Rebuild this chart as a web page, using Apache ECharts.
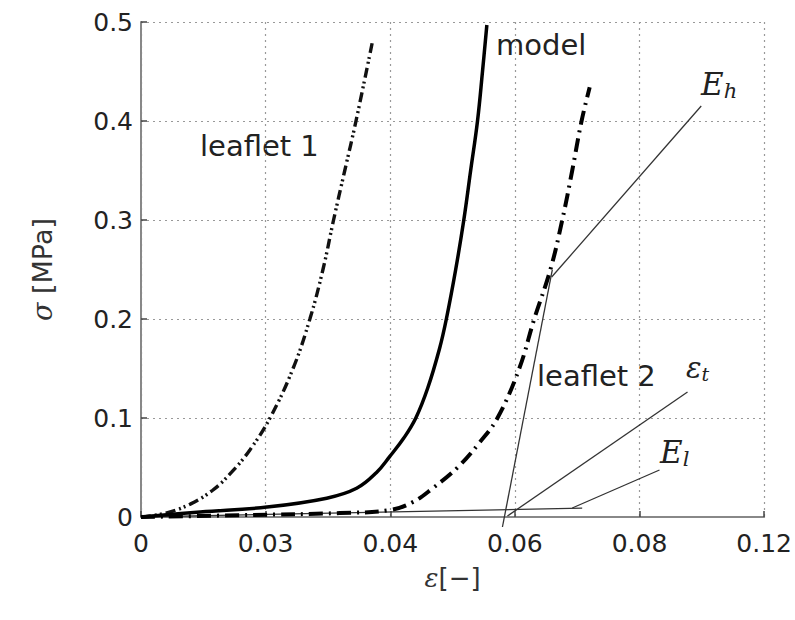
<!DOCTYPE html>
<html>
<head>
<meta charset="utf-8">
<script src="https://cdn.jsdelivr.net/npm/echarts@6/dist/echarts.min.js"></script>
<style>
  html, body { margin: 0; padding: 0; background: #fff; }
  #chart { width: 795px; height: 620px; }
</style>
</head>
<body>
<div id="chart"></div>
<script>
// tick labels as printed on the original x axis (equally spaced)
var xTickLabels = ['0', '0.03', '0.04', '0.06', '0.08', '0.12'];
var yTickLabels = ['0', '0.1', '0.2', '0.3', '0.4', '0.5'];

// [strain, stress]
var leaflet1 = [[0, 0], [0.0040, 0.004], [0.0079, 0.013], [0.0115, 0.027], [0.0145, 0.045],
  [0.0175, 0.068], [0.0207, 0.100], [0.0244, 0.150], [0.0271, 0.200], [0.0292, 0.250],
  [0.0309, 0.300], [0.0327, 0.350], [0.0345, 0.400], [0.0372, 0.482]];
var model = [[0, 0], [0.0095, 0.005], [0.0202, 0.010], [0.0298, 0.019], [0.0346, 0.029],
  [0.0378, 0.045], [0.0399, 0.061], [0.0422, 0.080], [0.0441, 0.100], [0.0460, 0.130],
  [0.0479, 0.170], [0.0490, 0.200], [0.0505, 0.250], [0.0518, 0.300], [0.0529, 0.350],
  [0.0540, 0.400], [0.0548, 0.450], [0.0555, 0.497]];
var leaflet2 = [[0, 0], [0.0175, 0.002], [0.0319, 0.004], [0.0399, 0.007], [0.0436, 0.015],
  [0.0468, 0.029], [0.0508, 0.050], [0.0543, 0.075], [0.0572, 0.100], [0.0607, 0.150],
  [0.0631, 0.200], [0.0657, 0.250], [0.0676, 0.300], [0.0692, 0.350], [0.0707, 0.400],
  [0.0720, 0.434]];

// tangents and pointer lines
var tangentHigh = [[0.0580, -0.0101], [0.0660, 0.2495]];
var tangentLow = [[0, 0], [0.0708, 0.009]];
var pointerEh = [[0.0659, 0.2424], [0.0899, 0.4152]];
var pointerEt = [[0.0588, 0.001], [0.0877, 0.1263]];
var pointerEl = [[0.0692, 0.0091], [0.0832, 0.0475]];

var chart = echarts.init(document.getElementById('chart'), null, {renderer: 'svg'});

var sans = 'DejaVu Sans';
var serif = 'DejaVu Serif';

function thin(name, data) {
    return {
        name: name,
        type: 'line',
        data: data,
        symbol: 'none',
        clip: false,
        silent: true,
        lineStyle: {color: '#333', width: 1.3},
        z: 3
    };
}

var option = {
    backgroundColor: '#fff',
    animation: false,
    grid: {
        left: 141,
        top: 22,
        right: 30,
        bottom: 103,
        containLabel: false
    },
    xAxis: {
        type: 'value',
        min: 0,
        max: 0.1,
        interval: 0.02,
        name: '{i|ε}[−]',
        nameLocation: 'middle',
        nameGap: 48,
        nameTextStyle: {
            fontFamily: sans,
            fontSize: 26,
            color: '#333',
            rich: {i: {fontFamily: serif, fontStyle: 'italic', fontSize: 26, color: '#333'}}
        },
        axisLine: {onZero: false, lineStyle: {color: '#888', width: 2}},
        axisTick: {inside: true, length: 6, lineStyle: {color: '#444', width: 1.5}},
        axisLabel: {
            margin: 14,
            fontFamily: sans,
            fontSize: 25,
            color: '#222',
            formatter: function (v) {
                return xTickLabels[Math.round(v / 0.02)];
            }
        },
        splitLine: {
            show: true,
            lineStyle: {color: '#999', type: [2, 4], width: 1.2}
        }
    },
    yAxis: {
        type: 'value',
        min: 0,
        max: 0.5,
        interval: 0.1,
        name: '{i|σ} [MPa]',
        nameLocation: 'middle',
        nameGap: 85,
        nameRotate: 90,
        nameTextStyle: {
            fontFamily: sans,
            fontSize: 27,
            color: '#333',
            rich: {i: {fontFamily: serif, fontStyle: 'italic', fontSize: 27, color: '#333'}}
        },
        axisLine: {show: true, onZero: false, lineStyle: {color: '#888', width: 2}},
        axisTick: {show: true, inside: true, length: 6, lineStyle: {color: '#444', width: 1.5}},
        axisLabel: {
            margin: 8,
            fontFamily: sans,
            fontSize: 25,
            color: '#222',
            formatter: function (v) {
                return yTickLabels[Math.round(v / 0.1)];
            }
        },
        splitLine: {
            show: true,
            lineStyle: {color: '#999', type: [2, 4], width: 1.2}
        }
    },
    series: [
        {
            name: 'leaflet 1',
            type: 'line',
            data: leaflet1,
            symbol: 'none',
            smooth: 0.4,
            lineStyle: {color: '#111', width: 3.4, type: [10, 4, 2, 3, 2, 4]},
            z: 4
        },
        {
            name: 'model',
            type: 'line',
            data: model,
            symbol: 'none',
            smooth: 0.4,
            lineStyle: {color: '#000', width: 3.5},
            z: 5
        },
        {
            name: 'leaflet 2',
            type: 'line',
            data: leaflet2,
            symbol: 'none',
            smooth: 0.4,
            lineStyle: {color: '#000', width: 4, type: [14, 6, 2, 6]},
            z: 4
        },
        thin('Eh tangent', tangentHigh),
        thin('El tangent', tangentLow),
        thin('Eh pointer', pointerEh),
        thin('et pointer', pointerEt),
        thin('El pointer', pointerEl)
    ],
    graphic: [
        {type: 'text', left: 200, top: 131, style: {text: 'leaflet 1', font: '29px "DejaVu Sans"', fill: '#222'}},
        {type: 'text', left: 496, top: 30, style: {text: 'model', font: '29px "DejaVu Sans"', fill: '#222'}},
        {type: 'text', left: 537, top: 361, style: {text: 'leaflet 2', font: '29px "DejaVu Sans"', fill: '#222'}},
        {
            type: 'text', left: 701, top: 68,
            style: {
                text: '{b|E}{s|h}',
                rich: {
                    b: {font: 'italic 31px "DejaVu Serif"', fill: '#222'},
                    s: {font: 'italic 21px "DejaVu Serif"', fill: '#222', padding: [14, 0, 0, 0]}
                }
            }
        },
        {
            type: 'text', left: 686, top: 353,
            style: {
                text: '{b|ε}{s|t}',
                rich: {
                    b: {font: 'italic 29px "DejaVu Serif"', fill: '#222'},
                    s: {font: 'italic 19px "DejaVu Serif"', fill: '#222', padding: [12, 0, 0, 0]}
                }
            }
        },
        {
            type: 'text', left: 660, top: 436,
            style: {
                text: '{b|E}{s|l}',
                rich: {
                    b: {font: 'italic 31px "DejaVu Serif"', fill: '#222'},
                    s: {font: 'italic 21px "DejaVu Serif"', fill: '#222', padding: [14, 0, 0, 0]}
                }
            }
        }
    ]
};

chart.setOption(option);
</script>
</body>
</html>
